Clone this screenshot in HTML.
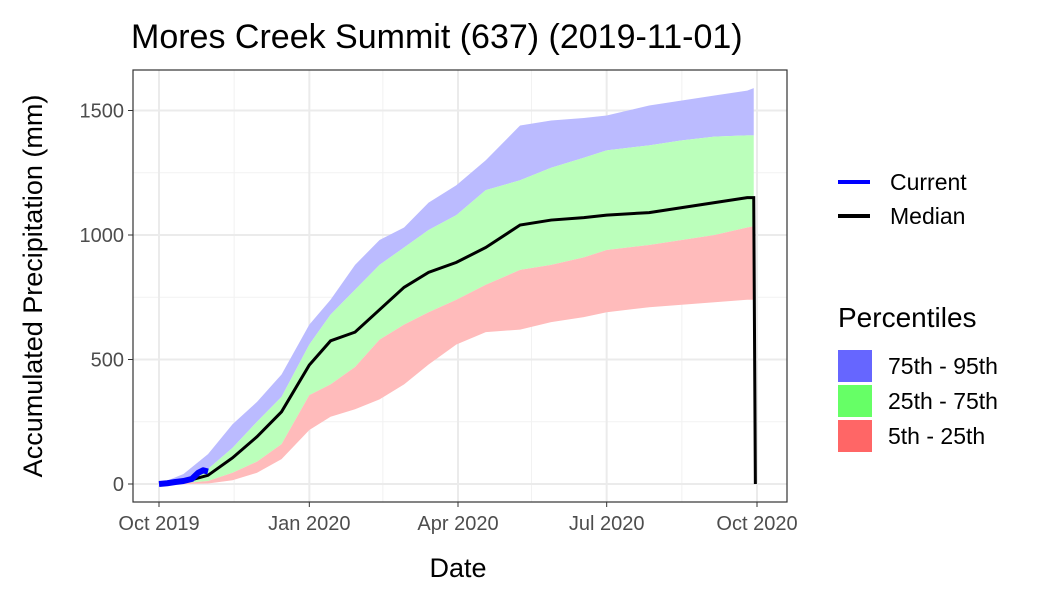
<!DOCTYPE html>
<html><head><meta charset="utf-8"><style>
body{margin:0;background:#fff;font-family:"Liberation Sans",sans-serif}
</style></head><body>
<svg id="c" width="1050" height="600" xmlns="http://www.w3.org/2000/svg" font-family="Liberation Sans, sans-serif"></svg>
<script>
const days=[0,15,30,45,60,75,92,105,120,135,150,165,182,200,221,240,260,274,300,320,340,360,364];
const p5 =[0,0,2,15,45,100,217,270,300,340,400,480,560,610,620,650,670,690,710,720,730,740,740];
const p25=[0,3,12,45,90,160,357,400,470,580,640,690,740,800,860,880,910,940,960,980,1000,1030,1035];
const p50=[0,8,35,105,190,290,478,575,610,700,790,850,890,950,1040,1060,1070,1080,1090,1110,1130,1150,1150];
const p75=[0,15,60,145,250,350,560,680,780,880,950,1020,1080,1180,1220,1270,1310,1340,1360,1380,1395,1400,1400];
const p95=[0,40,120,240,330,440,640,740,880,980,1030,1130,1200,1300,1440,1460,1470,1480,1520,1540,1560,1580,1590];
const curDays=[0,5,10,15,20,24,27,30];
const curVals=[0,3,8,12,20,45,55,50];
const yTicks=[0,500,1000,1500];
const xTickDays=[0,92,183,274,366];
const xTickLabels=["Oct 2019","Jan 2020","Apr 2020","Jul 2020","Oct 2020"];
const svg=document.getElementById('c');const NS='http://www.w3.org/2000/svg';
const L=133,R=787,T=70,B=502;
const X=d=>159+d*(598/366), Y=v=>484-v*0.249;
function mk(t,a,p){const e=document.createElementNS(NS,t);for(const k in a)e.setAttribute(k,a[k]);(p||svg).appendChild(e);return e;}
let e=mk('rect',{x:L,y:T,width:R-L,height:B-T,fill:'#fff'});

[250,750,1250].forEach(v=>{let g=mk('line',{x1:L,x2:R,y1:Y(v),y2:Y(v),stroke:'#f2f2f2','stroke-width':1});});
[46,137,228,320].forEach(d=>{let g=mk('line',{x1:X(d),x2:X(d),y1:T,y2:B,stroke:'#f2f2f2','stroke-width':1});});
yTicks.forEach(v=>{let g=mk('line',{x1:L,x2:R,y1:Y(v),y2:Y(v),stroke:'#ebebeb','stroke-width':2});
 let t=mk('text',{x:L-9,y:Y(v)+7,'text-anchor':'end','font-size':20,fill:'#4d4d4d'});t.textContent=v;
 mk('line',{x1:L-5,x2:L,y1:Y(v),y2:Y(v),stroke:'#333'});});
xTickDays.forEach((d,i)=>{let g=mk('line',{x1:X(d),x2:X(d),y1:T,y2:B,stroke:'#ebebeb','stroke-width':2});
 let t=mk('text',{x:X(d),y:B+28,'text-anchor':'middle','font-size':20,fill:'#4d4d4d'});t.textContent=xTickLabels[i];
 mk('line',{x1:X(d),x2:X(d),y1:B,y2:B+5,stroke:'#333'});});
function band(lo,hi,col,name){let d='M'+days.map((x,i)=>X(x)+','+Y(hi[i])).join('L');for(let i=days.length-1;i>=0;i--)d+='L'+X(days[i])+','+Y(lo[i]);
 let p=mk('path',{d:d+'Z',fill:col});}
band(p75,p95,'#bbbbff','band-75-95');band(p25,p75,'#bbffbb','band-25-75');band(p5,p25,'#ffbbbb','band-5-25');
let md='M'+days.map((x,i)=>X(x)+','+Y(p50[i])).join('L')+'L'+X(365)+','+Y(0);
e=mk('path',{d:md,fill:'none',stroke:'#000','stroke-width':3});
e=mk('path',{d:'M'+curDays.map((x,i)=>X(x)+','+Y(curVals[i])).join('L'),fill:'none',stroke:'#0000ff','stroke-width':6,'stroke-linejoin':'round'});
e=mk('rect',{x:L,y:T,width:R-L,height:B-T,fill:'none',stroke:'#333','stroke-width':1.2});
function txt(s,a,n){let t=mk('text',a);t.textContent=s;return t;}
txt('Mores Creek Summit (637) (2019-11-01)',{x:131,y:48,'font-size':34,fill:'#000'},'chart-title');
txt('Date',{x:458,y:577,'text-anchor':'middle','font-size':27},'x-axis-title');
txt('Accumulated Precipitation (mm)',{x:42,y:286,'text-anchor':'middle','font-size':27,transform:'rotate(-90 42 286)'},'y-axis-title');
[['Current','#0000ff',182],['Median','#000',216]].forEach(a=>{let l=mk('line',{x1:838,x2:870,y1:a[2],y2:a[2],stroke:a[1],'stroke-width':4});
 txt(a[0],{x:890,y:a[2]+8,'font-size':23},'legend-entry');});
txt('Percentiles',{x:838,y:327,'font-size':28},'legend-title');
[['75th - 95th','#6666ff',350],['25th - 75th','#66ff66',385],['5th - 25th','#ff6666',420]].forEach(a=>{let r=mk('rect',{x:838,y:a[2],width:34,height:32,fill:a[1]});
 txt(a[0],{x:888,y:a[2]+24,'font-size':23},'legend-entry');});
</script>
</body></html>
